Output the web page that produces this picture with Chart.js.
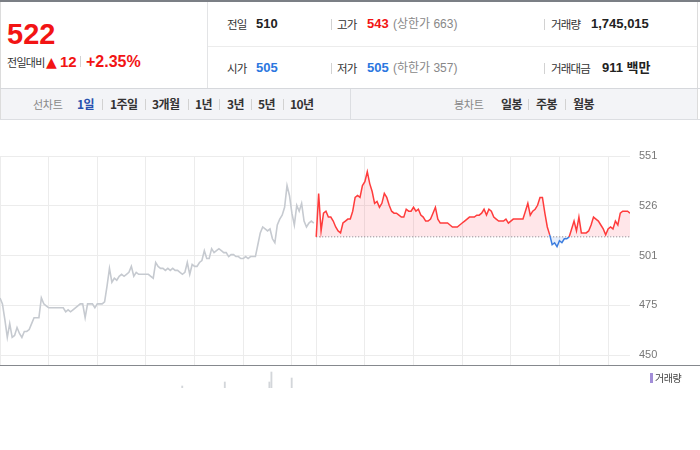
<!DOCTYPE html>
<html lang="ko">
<head>
<meta charset="utf-8">
<script src="https://cdn.jsdelivr.net/npm/chart.js@4.4.1/dist/chart.umd.min.js"></script>
<style>
body { margin:0; width:700px; height:450px; background:#fff; position:relative; overflow:hidden;
  font-family:"Liberation Sans","Noto Sans CJK KR",sans-serif; color:#333; }
.a { position:absolute; white-space:nowrap; }
.ln { position:absolute; }
.lbl { font-family:"Noto Sans CJK KR",sans-serif; font-size:11.5px; letter-spacing:-0.8px; line-height:18px; color:#333; }
.val { font-weight:bold; font-size:13px; line-height:18px; color:#222; }
.sub { font-family:"Liberation Sans","Noto Sans CJK KR",sans-serif; font-size:12px; line-height:18px; color:#888; }
.sep { position:absolute; width:1px; height:11px; background:#d2d2d2; }
.tab { font-family:"Noto Sans CJK KR",sans-serif; font-weight:bold; font-size:12px; line-height:16px; color:#333; letter-spacing:-0.6px; }
.tabg { font-family:"Noto Sans CJK KR",sans-serif; font-size:11px; line-height:16px; color:#888; letter-spacing:-0.3px; }
.red { color:#f21414; }
.blue { color:#2b77e0; }
canvas { position:absolute; left:0; }
</style>
</head>
<body>
<!-- 헤더 선 -->
<div class="ln" style="left:0;top:0;width:700px;height:2px;background:#7b7f85"></div>
<div class="ln" style="left:0;top:2px;width:1px;height:118px;background:#dcdcdc"></div>
<div class="ln" style="left:697px;top:2px;width:1px;height:118px;background:#dcdcdc"></div>
<div class="ln" style="left:207px;top:2px;width:1px;height:86px;background:#e3e4e6"></div>
<div class="ln" style="left:208px;top:46px;width:489px;height:1px;background:#ececec"></div>
<div class="ln" style="left:0;top:88px;width:700px;height:1px;background:#d6d8dc"></div>
<div class="ln" style="left:1px;top:89px;width:696px;height:30px;background:#f3f4f7"></div>
<div class="ln" style="left:0;top:119px;width:700px;height:1px;background:#dcdee2"></div>
<div class="ln" style="left:350px;top:89px;width:1px;height:30px;background:#dcdee2"></div>

<!-- 현재가 -->
<div class="a red" style="left:7px;top:20px;font-size:29px;line-height:29px;font-weight:bold">522</div>
<div class="a lbl" style="left:7px;top:53px;font-size:11px;letter-spacing:-0.7px">전일대비</div>
<div class="a red" style="left:46px;top:53px;font-size:14px;line-height:18px;font-family:'DejaVu Sans'">▲</div>
<div class="a red" style="left:60px;top:52px;font-size:15px;line-height:20px;font-weight:bold">12</div>
<div class="sep" style="left:80px;top:56px"></div>
<div class="a red" style="left:86px;top:52px;font-size:16px;line-height:20px;font-weight:bold">+2.35%</div>

<!-- 시세 -->
<div class="a lbl" style="left:227px;top:15px">전일</div>
<div class="a val" style="left:256px;top:15px">510</div>
<div class="sep" style="left:331px;top:19px"></div>
<div class="a lbl" style="left:337px;top:15px">고가</div>
<div class="a val red" style="left:367px;top:15px">543</div>
<div class="a sub" style="left:393px;top:15px">(상한가 663)</div>
<div class="sep" style="left:544px;top:19px"></div>
<div class="a lbl" style="left:551px;top:15px">거래량</div>
<div class="a val" style="left:591px;top:15px">1,745,015</div>

<div class="a lbl" style="left:227px;top:59px">시가</div>
<div class="a val blue" style="left:256px;top:59px">505</div>
<div class="sep" style="left:331px;top:63px"></div>
<div class="a lbl" style="left:337px;top:59px">저가</div>
<div class="a val blue" style="left:367px;top:59px">505</div>
<div class="a sub" style="left:393px;top:59px">(하한가 357)</div>
<div class="sep" style="left:544px;top:63px"></div>
<div class="a lbl" style="left:551px;top:59px">거래대금</div>
<div class="a val" style="left:602px;top:59px">911 백만</div>

<!-- 탭 -->
<div class="a tabg" style="left:33px;top:96px">선차트</div>
<div class="a tab" style="left:77px;top:96px;color:#2850ae">1일</div>
<div class="sep" style="left:102px;top:99px"></div>
<div class="a tab" style="left:110px;top:96px">1주일</div>
<div class="sep" style="left:145px;top:99px"></div>
<div class="a tab" style="left:152px;top:96px">3개월</div>
<div class="sep" style="left:188px;top:99px"></div>
<div class="a tab" style="left:195px;top:96px">1년</div>
<div class="sep" style="left:219px;top:99px"></div>
<div class="a tab" style="left:227px;top:96px">3년</div>
<div class="sep" style="left:251px;top:99px"></div>
<div class="a tab" style="left:258px;top:96px">5년</div>
<div class="sep" style="left:283px;top:99px"></div>
<div class="a tab" style="left:290px;top:96px">10년</div>
<div class="a tabg" style="left:454px;top:96px">봉차트</div>
<div class="a tab" style="left:501px;top:96px">일봉</div>
<div class="sep" style="left:528px;top:99px"></div>
<div class="a tab" style="left:536px;top:96px">주봉</div>
<div class="sep" style="left:565px;top:99px"></div>
<div class="a tab" style="left:573px;top:96px">월봉</div>

<!-- 차트 -->
<canvas id="priceChart" width="700" height="245" style="top:120px"></canvas>
<div class="ln" style="left:0;top:365px;width:700px;height:1px;background:#85888d"></div>
<canvas id="volChart" width="700" height="22" style="top:366px"></canvas>
<div class="ln" style="left:650px;top:373px;width:3px;height:10px;background:#a28dd8"></div>
<div class="a" style="left:655px;top:371px;font-family:'Noto Sans CJK KR';font-size:10px;line-height:14px;color:#444;letter-spacing:-0.5px">거래량</div>

<script>
// 이전 가격 (회색)
const histPrices = [
  479,476,468,459,466,459,460,464,461,459,
  462,462,463,466,469,469,469,479,476,475,
  474,474,474,474,474,474,474,472,473,472,
  473,474,475,476,476,469,476,476,476,474,
  476,476,476,477,485,494,487,489,488,490,
  491,490,491,492,495,490,492,491,491,491,
  491,491,490,489,497,495,494,494,493,494,
  493,494,493,493,492,491,492,497,491,496,
  495,495,497,498,503,499,499,504,502,503,
  504,503,502,502,500,501,501,500,500,499,
  499,500,499,500,500,500,506,512,515,514,
  513,514,509,507,516,519,521,525,536,531,
  522,516,526,523,527,518,515,517,518,517
];

// 오늘 가격
const todayPrices = [
  510,532,513,522,523,520,520,518,515,513,
  512,517,518,519,519,523,530,531,530,536,
  538,543,537,533,527,528,525,527,532,530,
  526,523,522,522,521,520,520,524,523,523,
  525,523,524,521,520,518,518,519,522,525,
  519,517,517,517,517,516,515,515,515,516,
  517,518,519,520,520,520,521,521,522,524,
  521,524,523,520,519,518,518,518,519,517,
  518,519,519,519,519,519,523,527,521,523,
  524,526,530,530,522,515,511,506,507,505,
  508,507,509,509,510,514,518,513,520,512,
  512,512,513,516,520,519,518,516,514,511,
  514,515,514,518,516,522,523,523,523,522
];

const prevClose = 510;

// 축
const priceTicks = [450, 475.25, 500.5, 525.75, 551];
const priceTickLabels = ["450", "475", "501", "526", "551"];
const gridIdx = [0, 20, 40, 60, 80, 100, 120, 130, 150, 170, 190, 210, 230, 250];

// 거래량
const volIdx = [64, 85, 107, 108, 118];
const volValues = [2, 6, 6, 16, 10];

const nHist = histPrices.length;
const xMax = nHist + todayPrices.length - 1;
const red = "#ff3c3c";
const blue = "#3b7ddf";

new Chart(document.getElementById("priceChart"), {
  type: "line",
  data: {
    datasets: [
      {
        data: histPrices.map((v, i) => ({ x: i, y: v })),
        borderColor: "#c6cad0",
        borderWidth: 1.6
      },
      {
        data: todayPrices.map((v, j) => ({ x: nHist + j, y: v })),
        borderColor: red,
        borderWidth: 1.5,
        segment: {
          borderColor: c => (c.p0.parsed.y < prevClose || c.p1.parsed.y < prevClose) ? blue : red
        },
        fill: {
          target: { value: prevClose },
          above: "rgba(255,50,70,0.12)",
          below: "rgba(60,120,230,0.12)"
        }
      },
      {
        data: todayPrices.map((v, j) => ({ x: nHist + j, y: prevClose })),
        borderColor: "#7a7a7a",
        borderWidth: 1,
        borderDash: [1, 2]
      }
    ]
  },
  options: {
    responsive: false,
    animation: false,
    events: [],
    layout: { padding: { top: 36, left: 0, right: 0, bottom: 0 } },
    elements: { point: { radius: 0 }, line: { tension: 0 } },
    plugins: { legend: { display: false }, tooltip: { enabled: false } },
    scales: {
      x: {
        type: "linear", min: 0, max: xMax,
        afterBuildTicks: a => { a.ticks = gridIdx.map(v => ({ value: v })); },
        ticks: { display: false },
        grid: { color: "#ececec", drawTicks: false },
        border: { display: false },
        afterFit: s => { s.height = 0; s.paddingLeft = 0; s.paddingRight = 0; }
      },
      y: {
        position: "right", min: 445, max: 551,
        afterBuildTicks: a => { a.ticks = priceTicks.map(v => ({ value: v })); },
        ticks: {
          color: "#777", padding: 9,
          font: { size: 11, family: "Liberation Sans" },
          callback: (v, i) => priceTickLabels[i]
        },
        grid: { color: "#ececec", drawTicks: false },
        border: { display: false },
        afterFit: s => { s.width = 70; s.paddingTop = 0; s.paddingBottom = 0; }
      }
    }
  }
});

new Chart(document.getElementById("volChart"), {
  type: "bar",
  data: {
    datasets: [{
      data: volIdx.map((x, k) => ({ x: x, y: volValues[k] })),
      backgroundColor: "#d3d6da",
      barThickness: 1.2
    }]
  },
  options: {
    responsive: false,
    animation: false,
    events: [],
    layout: { padding: 0 },
    plugins: { legend: { display: false }, tooltip: { enabled: false } },
    scales: {
      x: {
        type: "linear", min: 0, max: xMax,
        ticks: { display: false }, grid: { display: false }, border: { display: false },
        afterFit: s => { s.height = 0; s.paddingLeft = 0; s.paddingRight = 0; }
      },
      y: {
        position: "right", min: 0, max: 22,
        ticks: { display: false }, grid: { display: false }, border: { display: false },
        afterFit: s => { s.width = 70; s.paddingTop = 0; s.paddingBottom = 0; }
      }
    }
  }
});
</script>
</body>
</html>
